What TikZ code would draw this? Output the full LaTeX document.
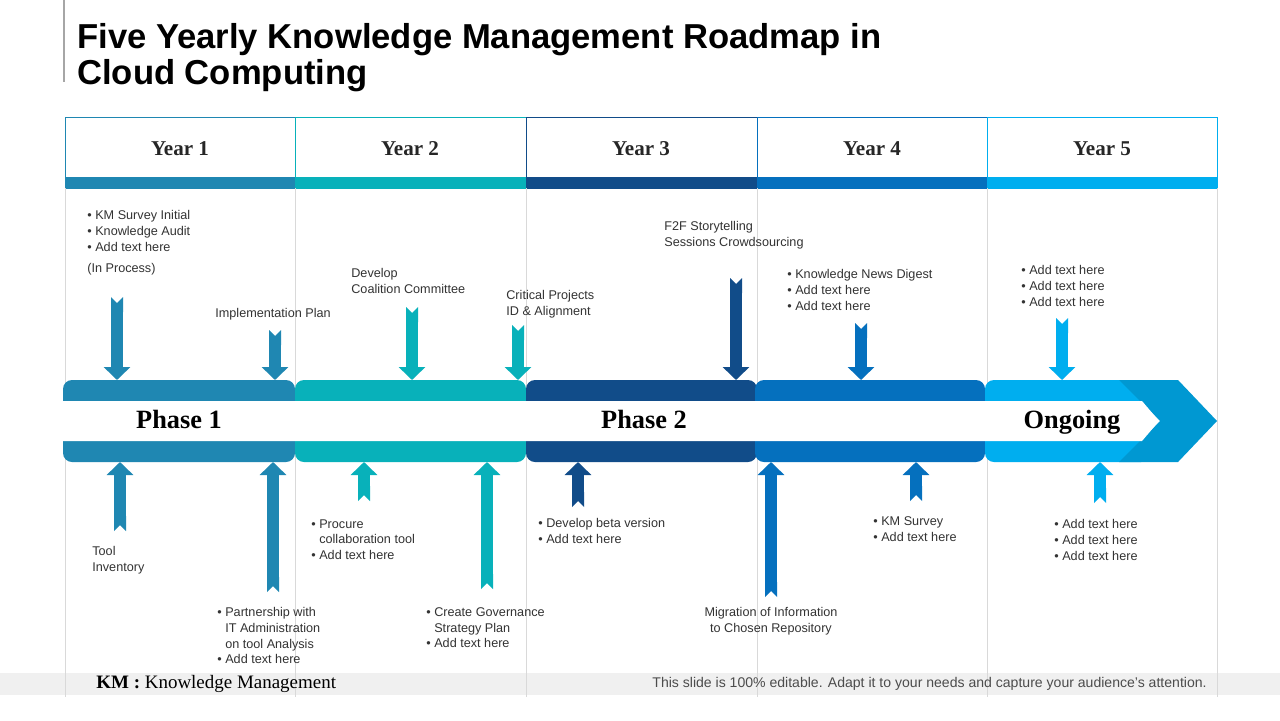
\documentclass[tikz,border=0pt]{standalone}
\usepackage{fontspec}
\setmainfont{Liberation Sans}
\newfontfamily\labelserif{Liberation Serif}
\usetikzlibrary{arrows.meta}
\usepackage{color}
\definecolor{blue_one}{RGB}{31,135,178}
\definecolor{teal_two}{RGB}{8,177,186}
\definecolor{navy_three}{RGB}{17,76,137}
\definecolor{blue_four}{RGB}{5,112,190}
\definecolor{sky_five}{RGB}{0,174,239}
\definecolor{sky_dark}{RGB}{0,152,210}
\definecolor{grid_grey}{RGB}{217,217,217}
\definecolor{text_grey}{RGB}{51,51,51}
\newcommand{\kmbullet}{\textbullet\ }
\newcommand{\kmindent}{\phantom{\textbullet\ }}

\begin{document}
\begin{tikzpicture}[x=0.02cm, y=-0.02cm,
    txt/.style={anchor=north west, inner sep=0pt, align=left, text=text_grey, font=\fontsize{7.2}{9}\selectfont},
    yearlbl/.style={font=\labelserif\bfseries\fontsize{12}{14}\selectfont, text=black!85},
    phaselbl/.style={anchor=base, font=\labelserif\bfseries\fontsize{15}{17}\selectfont, text=black},
    blockarr/.style={line width=0.24cm, arrows={Triangle Cap[reversed]-Triangle[width=0.52cm,length=0.26cm]}}]
    \useasboundingbox[fill=white] (0,0) rectangle (1280,720);

    % title
    \draw[black!35, line width=1.6pt] (64,0) -- (64,82);
    \node[anchor=north west, inner sep=0pt, align=left, font=\bfseries\fontsize{19.7}{20.3}\selectfont] (title) at (77,23) {Five Yearly Knowledge Management Roadmap in\\Cloud Computing};

    % year header
    \draw[blue_one] (65,117) rectangle (295,188);
    \draw[teal_two] (295,117) rectangle (526,188);
    \draw[navy_three] (526,117) rectangle (757,188);
    \draw[blue_four] (757,117) rectangle (987,188);
    \draw[sky_five] (987,117) rectangle (1217,188);
    \fill[blue_one] (65,177) rectangle (295,188);
    \fill[teal_two] (295,177) rectangle (526,188);
    \fill[navy_three] (526,177) rectangle (757,188);
    \fill[blue_four] (757,177) rectangle (987,188);
    \fill[sky_five] (987,177) rectangle (1217,188);
    \node[yearlbl] (year1) at (180,149) {Year 1};
    \node[yearlbl] (year2) at (410,149) {Year 2};
    \node[yearlbl] (year3) at (641,149) {Year 3};
    \node[yearlbl] (year4) at (872,149) {Year 4};
    \node[yearlbl] (year5) at (1102,149) {Year 5};

    % footer band and grid
    \fill[black!6] (0,673) rectangle (1280,695);
    \draw[grid_grey] (65,188) -- (65,697);
    \draw[grid_grey] (295,188) -- (295,697);
    \draw[grid_grey] (526,188) -- (526,697);
    \draw[grid_grey] (757,188) -- (757,697);
    \draw[grid_grey] (987,188) -- (987,697);
    \draw[grid_grey] (1217,188) -- (1217,697);

    % phase band
    \fill[blue_one, rounded corners=0.18cm] (63,380) rectangle (295,462);
    \fill[teal_two, rounded corners=0.18cm] (295,380) rectangle (526,462);
    \fill[navy_three, rounded corners=0.18cm] (526,380) rectangle (757,462);
    \fill[blue_four, rounded corners=0.18cm] (755,380) rectangle (985,462);
    \fill[sky_five, rounded corners=0.18cm] (985,380) rectangle (1150,462);
    \fill[sky_dark] (1119,380) -- (1178,380) -- (1217,421) -- (1178,462) -- (1119,462) -- (1160,421) -- cycle;
    \fill[white] (63,401) -- (1142,401) -- (1159,421) -- (1142,441) -- (63,441) -- cycle;
    \node[phaselbl] (phase1) at (179,428) {Phase 1};
    \node[phaselbl] (phase2) at (644,428) {Phase 2};
    \node[phaselbl] (ongoing) at (1072,428) {Ongoing};
    \coordinate (bandtop) at (0,380);
    \coordinate (bandbot) at (0,462);

    % labels above
    \node[txt] (survey) at (87,210) {\kmbullet KM Survey Initial\\\kmbullet Knowledge Audit\\\kmbullet Add text here\\[3pt](In Process)};
    \node[txt] (implement) at (215,308) {Implementation Plan};
    \node[txt] (coalition) at (351,268) {Develop\\Coalition Committee};
    \node[txt] (critical) at (506,290) {Critical Projects\\ID \& Alignment};
    \node[txt] (storytell) at (664,221) {F2F Storytelling\\Sessions Crowdsourcing};
    \node[txt] (newsdigest) at (787,269) {\kmbullet Knowledge News Digest\\\kmbullet Add text here\\\kmbullet Add text here};
    \node[txt] (ongoingtop) at (1021,265) {\kmbullet Add text here\\\kmbullet Add text here\\\kmbullet Add text here};

    % labels below
    \node[txt] (inventory) at (92,546) {Tool\\Inventory};
    \node[txt] (partner) at (217,607) {\kmbullet Partnership with\\\kmindent IT Administration\\\kmindent on tool Analysis\\\kmbullet Add text here};
    \node[txt] (procure) at (311,519) {\kmbullet Procure\\\kmindent collaboration tool\\\kmbullet Add text here};
    \node[txt] (governance) at (426,607) {\kmbullet Create Governance\\\kmindent Strategy Plan\\\kmbullet Add text here};
    \node[txt] (beta) at (538,518) {\kmbullet Develop beta version\\\kmbullet Add text here};
    \node[txt, anchor=north, align=center] (migration) at (771,607) {Migration of Information\\to Chosen Repository};
    \node[txt] (kmsurvey) at (873,516) {\kmbullet KM Survey\\\kmbullet Add text here};
    \node[txt] (ongoingbot) at (1054,519) {\kmbullet Add text here\\\kmbullet Add text here\\\kmbullet Add text here};

    % arrows into the band
    \coordinate (t1) at (117,297);
    \coordinate (t2) at (275,330);
    \coordinate (t3) at (412,307);
    \coordinate (t4) at (518,325);
    \coordinate (t5) at (736,278);
    \coordinate (t6) at (861,323);
    \coordinate (t7) at (1062,318);
    \draw[blockarr, blue_one] (t1) -- (t1 |- bandtop);
    \draw[blockarr, blue_one] (t2) -- (t2 |- bandtop);
    \draw[blockarr, teal_two] (t3) -- (t3 |- bandtop);
    \draw[blockarr, teal_two] (t4) -- (t4 |- bandtop);
    \draw[blockarr, navy_three] (t5) -- (t5 |- bandtop);
    \draw[blockarr, blue_four] (t6) -- (t6 |- bandtop);
    \draw[blockarr, sky_five] (t7) -- (t7 |- bandtop);

    \coordinate (u1) at (120,531);
    \coordinate (u2) at (273,592);
    \coordinate (u3) at (364,501);
    \coordinate (u4) at (487,589);
    \coordinate (u5) at (578,507);
    \coordinate (u6) at (771,597);
    \coordinate (u7) at (916,501);
    \coordinate (u8) at (1100,503);
    \draw[blockarr, blue_one] (u1) -- (u1 |- bandbot);
    \draw[blockarr, blue_one] (u2) -- (u2 |- bandbot);
    \draw[blockarr, teal_two] (u3) -- (u3 |- bandbot);
    \draw[blockarr, teal_two] (u4) -- (u4 |- bandbot);
    \draw[blockarr, navy_three] (u5) -- (u5 |- bandbot);
    \draw[blockarr, blue_four] (u6) -- (u6 |- bandbot);
    \draw[blockarr, blue_four] (u7) -- (u7 |- bandbot);
    \draw[blockarr, sky_five] (u8) -- (u8 |- bandbot);

    % footer
    \node[anchor=west, inner sep=0pt, font=\labelserif\fontsize{10.8}{12}\selectfont] (kmnote) at (96,684) {\textbf{KM :} Knowledge Management};
    \node[anchor=east, inner sep=0pt, text=black!70, font=\fontsize{8}{9}\selectfont] (editnote) at (1207,684) {This slide is 100\% editable. Adapt it to your needs and capture your audience's attention.};
\end{tikzpicture}
\end{document}
